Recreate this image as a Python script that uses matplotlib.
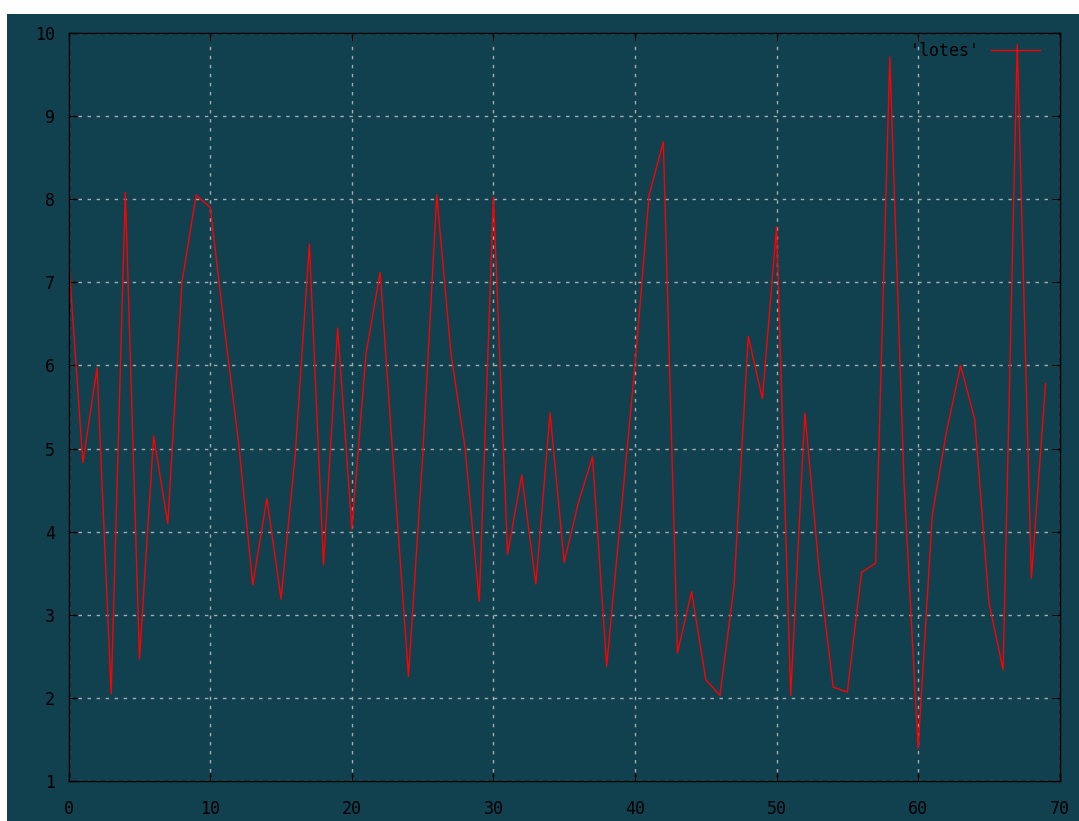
import matplotlib
matplotlib.use('Agg')
import matplotlib.pyplot as plt
from matplotlib.patches import Rectangle

# values, one per integer x
x = list(range(70))
lotes = [7.28, 4.83, 5.97, 2.05, 8.08, 2.47, 5.15, 4.10, 7.00, 8.05,
         7.90, 6.45, 5.07, 3.36, 4.40, 3.19, 4.93, 7.46, 3.60, 6.45,
         4.03, 6.14, 7.12, 4.65, 2.26, 4.90, 8.05, 6.15, 5.00, 3.16,
         8.03, 3.73, 4.68, 3.37, 5.43, 3.63, 4.35, 4.90, 2.38, 4.20,
         6.00, 8.05, 8.69, 2.54, 3.28, 2.22, 2.03, 3.35, 6.35, 5.60,
         7.67, 2.03, 5.43, 3.55, 2.13, 2.07, 3.51, 3.62, 9.71, 4.60,
         1.39, 4.20, 5.20, 6.00, 5.35, 3.15, 2.34, 9.86, 3.44, 5.78]

xticks = list(range(0, 71, 10))
yticks = list(range(1, 11))

bg = '#11404f'

fig = plt.figure(figsize=(10.79, 8.21), dpi=100, facecolor=bg)
# white strips at top and left like the screenshot
fig.patches.append(Rectangle((0, (821 - 14) / 821), 1, 14 / 821,
                             transform=fig.transFigure, facecolor='white',
                             edgecolor='none', zorder=-10))
fig.patches.append(Rectangle((0, 0), 7 / 1079, 1,
                             transform=fig.transFigure, facecolor='white',
                             edgecolor='none', zorder=-10))

ax = fig.add_axes([68.7 / 1079, 40 / 821, 991 / 1079, 748 / 821])
ax.set_facecolor(bg)

ax.plot(x, lotes, color='red', linewidth=1.0, label="'lotes'")

ax.set_xlim(0, 70)
ax.set_ylim(1, 10)
ax.set_xticks(xticks)
ax.set_yticks(yticks)

ax.grid(True, color='#a8acac', linestyle=(0, (2.5, 4)), linewidth=1.0)
ax.set_axisbelow(True)

for s in ax.spines.values():
    s.set_color('black')
    s.set_linewidth(1.0)

ax.tick_params(direction='in', length=6, width=1, color='black',
               top=True, right=True, labelsize=12, labelcolor='black')
ax.tick_params(axis='x', pad=14)
ax.tick_params(axis='y', pad=10)
for lab in ax.get_xticklabels() + ax.get_yticklabels():
    lab.set_fontfamily('DejaVu Sans Mono')

leg = ax.legend(loc='upper right', bbox_to_anchor=(1 - 20 / 991, 1 - 9 / 748),
                frameon=False, markerfirst=False, handlelength=2.9,
                handletextpad=0.7, borderaxespad=0, borderpad=0,
                prop={'family': 'DejaVu Sans Mono', 'size': 12})
for t in leg.get_texts():
    t.set_color('black')

fig.savefig('out.png', dpi=100, facecolor=fig.get_facecolor())
